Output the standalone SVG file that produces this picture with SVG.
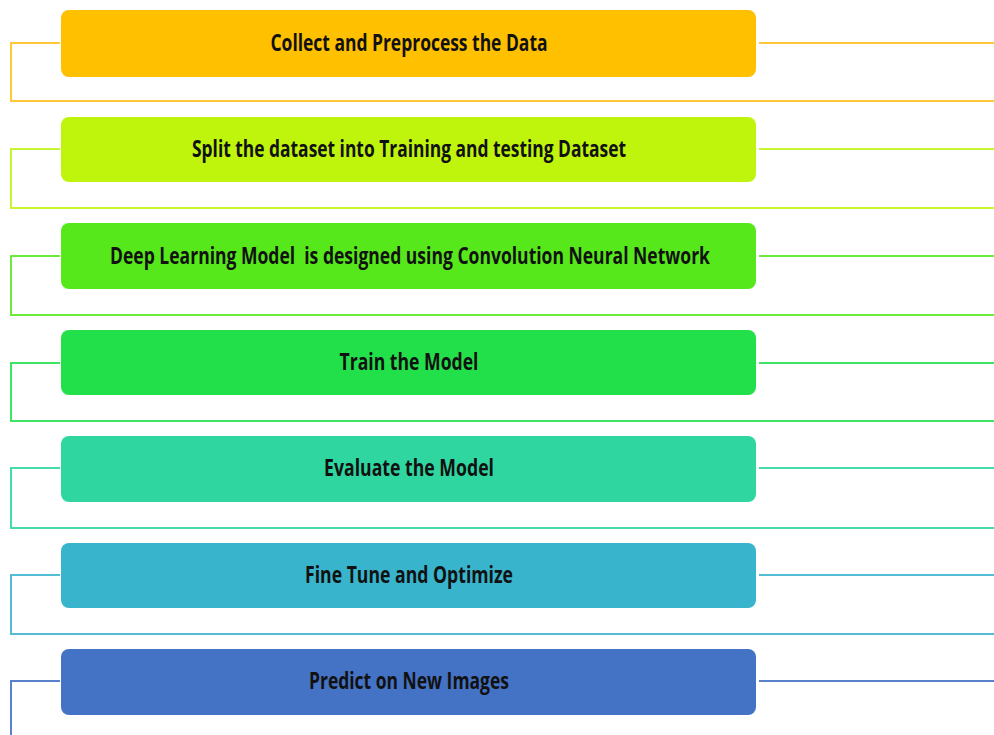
<svg xmlns="http://www.w3.org/2000/svg" width="994" height="735" viewBox="0 0 994 735">
<style>
.lbl{font-family:"Open Sans","Liberation Sans",sans-serif;font-weight:700;font-size:23px;fill:#111;text-anchor:middle}
.c{fill:none;stroke-width:2}
</style>
<rect width="994" height="735" fill="#ffffff"/>
<g id="connectors">
<path class="c" stroke="#FFC83A" d="M60 43H11V101H994M759 43H994"/>
<path class="c" stroke="#C6F532" d="M60 149H11V208H994M759 149H994"/>
<path class="c" stroke="#6DEB3A" d="M60 256H11V315H994M759 256H994"/>
<path class="c" stroke="#3FE464" d="M60 363H11V421H994M759 363H994"/>
<path class="c" stroke="#45DCAA" d="M60 468H11V528H994M759 468H994"/>
<path class="c" stroke="#52BDD4" d="M60 575H11V634H994M759 575H994"/>
<path class="c" stroke="#5A82CC" d="M60 681H11V735M759 681H994"/>
</g>
<g id="n1"><rect x="61" y="10" width="695" height="67" rx="8" fill="#FFC000"/><text class="lbl" x="409" y="51" textLength="277" lengthAdjust="spacingAndGlyphs">Collect and Preprocess the Data</text></g>
<g id="n2"><rect x="61" y="117" width="695" height="65" rx="8" fill="#BFF40C"/><text class="lbl" x="409" y="157" textLength="434" lengthAdjust="spacingAndGlyphs">Split the dataset into Training and testing Dataset</text></g>
<g id="n3"><rect x="61" y="223" width="695" height="66" rx="8" fill="#56E81A"/><text class="lbl" x="410" y="264" textLength="600" lengthAdjust="spacingAndGlyphs" xml:space="preserve">Deep Learning Model  is designed using Convolution Neural Network</text></g>
<g id="n4"><rect x="61" y="330" width="695" height="65" rx="8" fill="#22E04A"/><text class="lbl" x="409" y="370" textLength="139" lengthAdjust="spacingAndGlyphs">Train the Model</text></g>
<g id="n5"><rect x="61" y="436" width="695" height="66" rx="8" fill="#2FD6A0"/><text class="lbl" x="409" y="476" textLength="170" lengthAdjust="spacingAndGlyphs">Evaluate the Model</text></g>
<g id="n6"><rect x="61" y="543" width="695" height="65" rx="8" fill="#38B4CC"/><text class="lbl" x="409" y="583" textLength="208" lengthAdjust="spacingAndGlyphs">Fine Tune and Optimize</text></g>
<g id="n7"><rect x="61" y="649" width="695" height="66" rx="8" fill="#4472C4"/><text class="lbl" x="409" y="689" textLength="200" lengthAdjust="spacingAndGlyphs">Predict on New Images</text></g>
</svg>
